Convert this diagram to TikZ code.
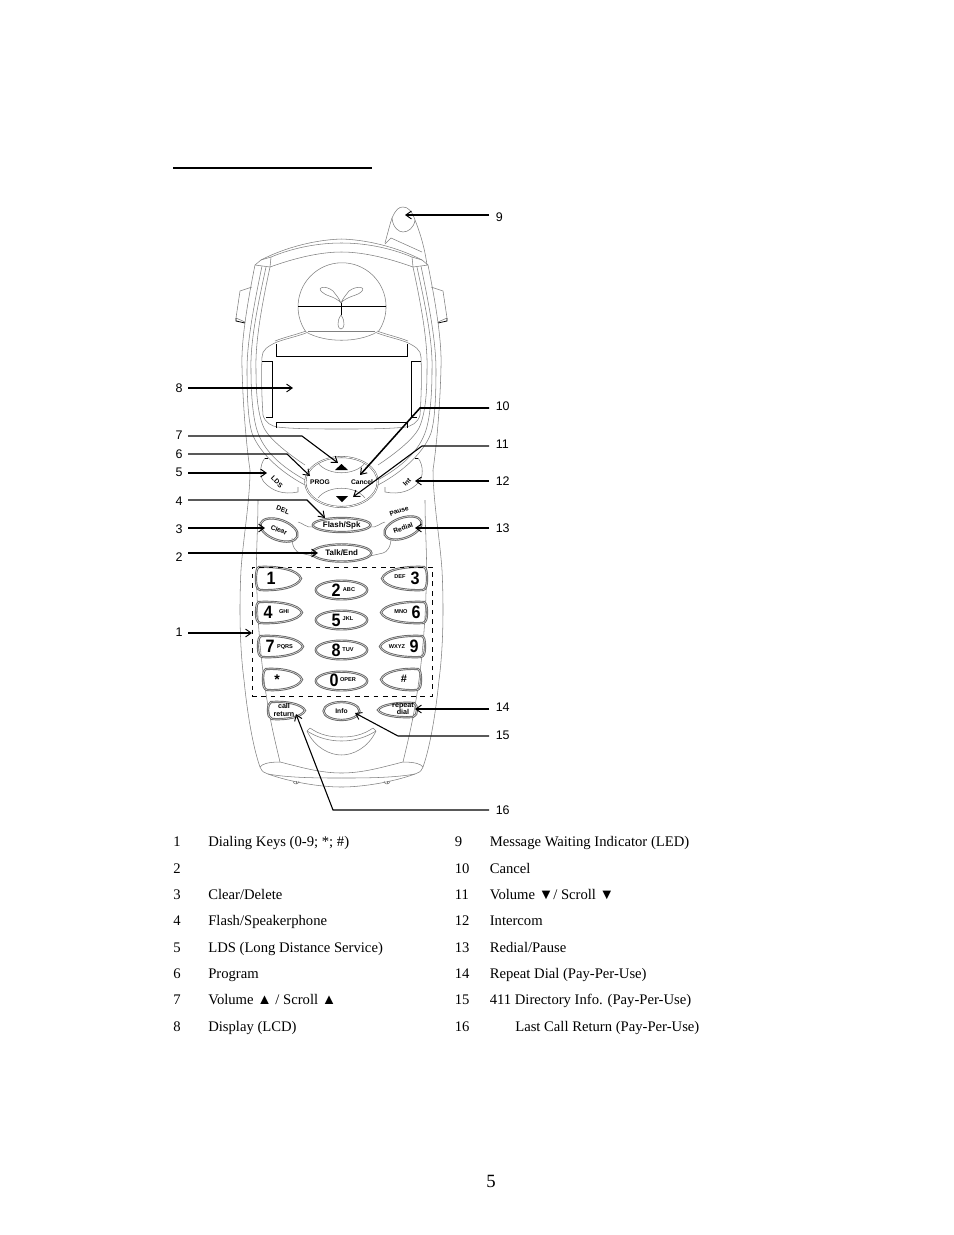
\documentclass[tikz,border=0pt]{standalone}
\usepackage{fontspec}
\setmainfont{Liberation Serif}
\newfontfamily\lab{Liberation Sans}
\usetikzlibrary{arrows.meta,calc,shapes.geometric}
\tikzset{
  x=0.6415pt,y=-0.6415pt,
  body/.style={draw=black!50,line width=0.35pt},
  edge/.style={draw=black,line width=0.5pt},
  keyline/.style={draw=black!60,line width=0.6pt,double=white,double distance=0.25pt},
  ptr/.style={draw=black,line width=0.7pt,-{Straight Barb[length=3.6pt,width=5pt,line width=0.6pt]}},
  ptrb/.style={ptr,line width=1pt},
  num/.style={font=\lab\fontsize{8}{9}\selectfont,inner sep=0pt},
  item/.style={font=\fontsize{9.4}{12}\selectfont,inner sep=0pt,anchor=base west},
  big/.style={font=\lab\bfseries\fontsize{11.5}{12}\selectfont,inner sep=0pt,xscale=0.9},
  tiny/.style={font=\lab\bfseries\fontsize{3.6}{4}\selectfont,inner sep=0pt},
  small/.style={font=\lab\bfseries\fontsize{4.6}{4.6}\selectfont,inner sep=0pt},
  navtxt/.style={font=\lab\bfseries\fontsize{4.3}{5}\selectfont,inner sep=0pt},
  keytxt/.style={font=\lab\bfseries\fontsize{5.1}{5.5}\selectfont,inner sep=0pt},
}
\newcommand{\lensL}[4]{% left, right, top, bottom
  \draw[keyline] ({#1+3},#3) .. controls ({#1+0.5*(#2-#1)},{#3-1}) and ({#2-3},{0.5*(#3+#4)-0.38*(#4-#3)}) .. (#2,{0.5*(#3+#4)})
   .. controls ({#2-3},{0.5*(#3+#4)+0.38*(#4-#3)}) and ({#1+0.5*(#2-#1)},{#4+1}) .. ({#1+4},#4)
   .. controls ({#1+1},{#4-1}) and (#1,{#4-4}) .. (#1,{0.5*(#3+#4)})
   .. controls (#1,{#3+4}) and ({#1+1},{#3+1}) .. ({#1+3},#3) -- cycle;}
\newcommand{\lensR}[4]{% left, right, top, bottom
  \draw[keyline] ({#2-3},#3) .. controls ({#2-0.5*(#2-#1)},{#3-1}) and ({#1+3},{0.5*(#3+#4)-0.38*(#4-#3)}) .. (#1,{0.5*(#3+#4)})
   .. controls ({#1+3},{0.5*(#3+#4)+0.38*(#4-#3)}) and ({#2-0.5*(#2-#1)},{#4+1}) .. ({#2-4},#4)
   .. controls ({#2-1},{#4-1}) and (#2,{#4-4}) .. (#2,{0.5*(#3+#4)})
   .. controls (#2,{#3+4}) and ({#2-1},{#3+1}) .. ({#2-3},#3) -- cycle;}
\newcommand{\halfphone}{%
  % outer shell
  \draw[body] (341.5,239) .. controls (310,240) and (280,250) .. (261,260) -- (255,265)
    .. controls (248,300) and (241,340) .. (242,367)
    .. controls (243,410) and (247,450) .. (250,470)
    .. controls (250,500) and (243,540) .. (241,570)
    .. controls (239,610) and (240,650) .. (244,680)
    .. controls (248,720) and (254,750) .. (260,767)
    .. controls (262,772) and (265,773) .. (268,774)
    .. controls (290,782) and (320,787) .. (341.5,787);
  \draw[body] (255,265) -- (270,267);
  \draw[body] (261,260) -- (271,257) .. controls (295,247) and (320,243) .. (341.5,243);
  \draw[body] (270,267) .. controls (295,258) and (320,252) .. (341.5,252);
  \draw[body] (271,257) -- (270,267);
  % clip on the side
  \draw[body] (252,287) -- (240,291) -- (236,318) -- (245,322);
  \draw[edge] (236,318) -- (236,321) -- (245,323);
  % inner side lines
  \draw[body] (262,266) .. controls (255,300) and (247,340) .. (247,370)
    .. controls (247,395) and (248,420) .. (252,433) .. controls (260,455) and (285,475) .. (307,486);
  \draw[body] (266,267) .. controls (259,300) and (250,340) .. (251,370)
    .. controls (251,395) and (253,420) .. (258,433) .. controls (266,455) and (287,470) .. (307,481);
  \draw[body] (270,267) .. controls (263,300) and (255,340) .. (256,370)
    .. controls (256,395) and (258,415) .. (264,428) .. controls (270,440) and (290,455) .. (305,465);
  % LDS key
  \draw[body] (265,458) .. controls (259,465) and (260,478) .. (264,482)
    .. controls (272,491) and (283,495) .. (298,492) -- (298,487);
  \draw[edge] (265,458) -- (268,458);
  % lower body lines
  \draw[body] (258,500) .. controls (258,530) and (255,570) .. (257,593)
    .. controls (258,630) and (262,670) .. (267,700) .. controls (271,725) and (276,745) .. (280,762);
  \draw[body] (260,767) .. controls (262,764) and (268,762) .. (280,762)
    .. controls (300,767) and (320,773) .. (341.5,773);
  \draw[body] (268,774) .. controls (290,778) and (320,778) .. (341.5,778);
  \draw[body] (293,781) arc[start angle=180,end angle=0,radius=3];
  \draw[body] (296,781) -- (296,784);
  % bottom smile
  \draw[body] (307,731) .. controls (315,748) and (330,755) .. (341.5,755);
  \draw[body] (307,731) .. controls (318,738) and (330,741) .. (341.5,741);
  \draw[body] (310,728) .. controls (320,735) and (330,737) .. (341.5,737);
  \draw[body] (307,731) -- (310,728);
  % display frame
  \draw[body] (306,333) .. controls (295,337) and (285,339) .. (277,342)
    .. controls (268,346) and (262,350) .. (262,357)
    .. controls (261,380) and (262,400) .. (263,415)
    .. controls (265,423) and (272,426) .. (277,427)
    .. controls (295,429) and (320,429) .. (341.5,429);
  \draw[body] (306,331) .. controls (295,335) and (285,337) .. (275,341);
  \draw[edge] (276,344) -- (276,356) -- (341.5,356);
  \draw[edge] (262,361) -- (272,361) -- (272,417) -- (266,417);
  \draw[edge] (276,428) -- (276,422) -- (341.5,422);
  % connecting band
  \draw[body] (298,522) .. controls (303,523) and (306,528) .. (313,527);
  \draw[body] (292,538) .. controls (292,547) and (296,552) .. (300,553) -- (313,556);
}
\begin{document}
\begin{tikzpicture}
\useasboundingbox (0,0) rectangle (954,1235);
% heading rule
\coordinate (ruleA) at (173,168); \coordinate (ruleB) at (372,168);
\draw[line width=1pt] (ruleA) -- (ruleB);

% both halves of the shell
\halfphone
\begin{scope}[shift={(683,0)},xscale=-1]\halfphone\end{scope}

% antenna
\draw[body] (385,243) .. controls (388,232) and (390,224) .. (392,218)
  .. controls (396,209) and (399,207) .. (403,207) .. controls (408,207) and (412,211) .. (415,220)
  .. controls (421,235) and (425,250) .. (427,265);
\draw[body] (385,244) -- (391,238) -- (422,252);
\draw[body] (392,218) .. controls (393,228) and (399,232) .. (403,232) .. controls (408,232) and (414,228) .. (415,220);

% earpiece sphere and logo
\draw[body] (306,332) arc[start angle=145,end angle=395,radius=44];
\draw[body] (306,332) .. controls (325,343) and (358,343) .. (377,332);
\draw[body] (308,331) -- (375,331);
\draw[edge] (298,306.7) -- (386,306.7);
\draw[edge] (341.3,303) -- (341.3,315);
\draw[body] (341,303) .. controls (335,296) and (325,296) .. (322,292) .. controls (316,287) and (326,285) .. (333,291) .. controls (336,295) and (339,298) .. (341,303);
\draw[body] (341,303) .. controls (347,296) and (357,296) .. (361,292) .. controls (367,287) and (357,285) .. (349,291) .. controls (346,295) and (343,298) .. (341,303);
\draw[body] (341,315) .. controls (336,322) and (338,329) .. (341,329) .. controls (344,329) and (346,322) .. (341,315);

% navigation cluster
\node[ellipse,draw=black!60,line width=0.35pt,double=white,double distance=0.5pt,minimum width=46.5pt,minimum height=32pt,inner sep=0pt] (nav) at (341.5,482) {};
\draw[body] (318,463) .. controls (328,476) and (355,476) .. (365,463);
\draw[body] (318,498) .. controls (328,485) and (355,485) .. (365,498);
\fill (335,470) -- (348,470) -- (341.5,464) -- cycle;
\fill (336,496) -- (348,496) -- (342,502) -- cycle;
\node[navtxt] (prog) at (320,482) {PROG};
\node[navtxt] (cancel) at (362,482) {Cancel};
\node[navtxt,rotate=-45] (lds) at (277,482) {LDS};
\node[navtxt,rotate=45] (int) at (407,482) {Int};

% function keys
\node[ellipse,keyline,minimum width=37pt,minimum height=9pt,inner sep=0pt] (flash) at (341.7,525) {};
\node[keytxt] at (flash) {Flash/Spk};
\node[ellipse,keyline,minimum width=38pt,minimum height=11pt,inner sep=0pt] (talk) at (341.7,553) {};
\node[keytxt] at (talk) {Talk/End};
\node[ellipse,keyline,rotate=-20,minimum width=25pt,minimum height=13pt,inner sep=0pt] (clear) at (279,530) {};
\node[navtxt,rotate=-20] at (clear) {Clear};
\node[ellipse,keyline,rotate=20,minimum width=25pt,minimum height=13pt,inner sep=0pt] (redial) at (403,528) {};
\node[navtxt,rotate=20] at (redial) {Redial};
\node[navtxt,rotate=-20] (del) at (283,510) {DEL};
\node[navtxt,rotate=20] (pause) at (399,511) {Pause};

% keypad
\lensL{256}{301}{567}{590}
\lensR{382}{427}{567}{590}
\lensL{256}{302}{602}{623}
\lensR{381}{427}{602}{623}
\lensL{258}{303}{636}{657}
\lensR{380}{425}{636}{657}
\lensL{263}{302}{669}{690}
\lensR{381}{421}{669}{690}
\lensL{268}{305}{702}{719}
\lensR{378}{417}{703}{717}
\foreach \nm/\yy in {k2/590,k5/620,k8/650,k0/681}{
  \node[ellipse,keyline,minimum width=33pt,minimum height=12pt,inner sep=0pt] (\nm) at (341.5,\yy) {};
}
\node[ellipse,keyline,minimum width=23pt,minimum height=11.5pt,inner sep=0pt] (info) at (341.5,711) {};
\node[big] (d1) at (271,578) {1};
\node[big] (d3) at (415,578) {3};   \node[tiny] at (400,577) {DEF};
\node[big] (d2) at (336,590) {2};   \node[tiny] at (349,590) {ABC};
\node[big] (d4) at (268,612) {4};   \node[tiny] at (284,612) {GHI};
\node[big] (d6) at (416,612) {6};   \node[tiny] at (401,612) {MNO};
\node[big] (d5) at (336,620) {5};   \node[tiny] at (348,619) {JKL};
\node[big] (d7) at (270,646) {7};   \node[tiny] at (285,647) {PQRS};
\node[big] (d9) at (414,646) {9};   \node[tiny] at (397,647) {WXYZ};
\node[big] (d8) at (336,650) {8};   \node[tiny] at (348,650) {TUV};
\node[big] (d0) at (334,680) {0};   \node[tiny] at (348,680) {OPER};
\node[font=\lab\bfseries\fontsize{9}{9}\selectfont,inner sep=0pt] (star) at (277,680) {*};
\node[font=\lab\bfseries\fontsize{7}{7}\selectfont,inner sep=0pt] (hash) at (404,679) {\#};
\node[navtxt] at (info) {Info};
\node[small,align=center] (callret) at (284,710) {call\\return};
\node[small,align=center] (repdial) at (403,709) {repeat\\dial};

% dashed frame of the keypad
\node[draw=black,dashed,line width=0.6pt,minimum width=115.5pt,minimum height=82.8pt,inner sep=0pt] (pad) at (342,631.5) {};

% number labels and pointers
\foreach \nm/\txt/\xx/\yy in {l1/1/179/632,l2/2/179/557,l3/3/179/529,l4/4/179/501,l5/5/179/472,l6/6/179/454,l7/7/179/435,l8/8/179/388}{
  \node[num] (\nm) at (\xx,\yy) {\txt};
}
\foreach \nm/\txt/\yy in {l9/9/217,l10/10/406,l11/11/444,l12/12/481,l13/13/528,l14/14/707,l15/15/735,l16/16/810}{
  \node[num,anchor=west] (\nm) at (495.5,\yy) {\txt};
}
\coordinate (a1) at (188,633);
\coordinate (a9) at (489,215);
\coordinate (a8) at (188,388);
\draw[ptrb] (a9) -- (405,215) coordinate (t9);
\draw[ptrb] (a8) -- (293,388) coordinate (t8);
\draw[ptr] (188,633) -- (252,633) coordinate (t1);
\draw[ptrb] (188,553) -- (318,553) coordinate (t2);
\draw[ptr] (188,528) -- (265,528) coordinate (t3);
\draw[ptr] (188,500) -- (307,500) -- (325,518);
\draw[ptrb] (188,473) -- (267,473);
\draw[ptr] (188,454) -- (287,454) -- (310,476);
\draw[ptr] (188,436) -- (302,436) -- (338,463);
\draw[ptrb] (489,408) -- (420,408) -- (360,475);
\draw[ptr] (489,446) -- (422,446) -- (353,497);
\draw[ptr] (489,481) -- (415,481);
\draw[ptrb] (489,528) -- (415,528);
\draw[ptr] (489,709) -- (415,709);
\draw[ptr] (489,736) -- (398,736) -- (355,713);
\draw[ptr] (489,810) -- (333,810) -- (296,714);

% legend
\foreach \nm/\nr/\txt/\yy in {
 a/1/{Dialing Keys (0-9; *; \#)}/846, b/2/{}/873, c/3/{Clear/Delete}/899, d/4/{Flash/Speakerphone}/925,
 e/5/{LDS (Long Distance Service)}/952, f/6/{Program}/978, g/7/{Volume ▲ / Scroll ▲}/1004, h/8/{Display (LCD)}/1031}{
  \node[item] (n\nm) at (173,\yy) {\nr};
  \node[item] (t\nm) at (208,\yy) {\txt};
}
\foreach \nm/\nr/\txt/\yy in {
 i/9/{Message Waiting Indicator (LED)}/846, j/10/{Cancel}/873, k/11/{Volume ▼/ Scroll ▼}/899, m/12/{Intercom}/925,
 o/13/{Redial/Pause}/952, p/14/{Repeat Dial (Pay-Per-Use)}/978, q/15/{411 Directory Info. (Pay-Per-Use)}/1004}{
  \node[item] (n\nm) at (454.5,\yy) {\nr};
  \node[item] (t\nm) at (489.5,\yy) {\txt};
}
\node[item] (nr) at (454.5,1031) {16};
\node[item] (tr) at (515,1031) {Last Call Return (Pay-Per-Use)};
\node[font=\fontsize{12}{14}\selectfont,inner sep=0pt] (page) at (491,1181) {5};
\end{tikzpicture}
\end{document}
